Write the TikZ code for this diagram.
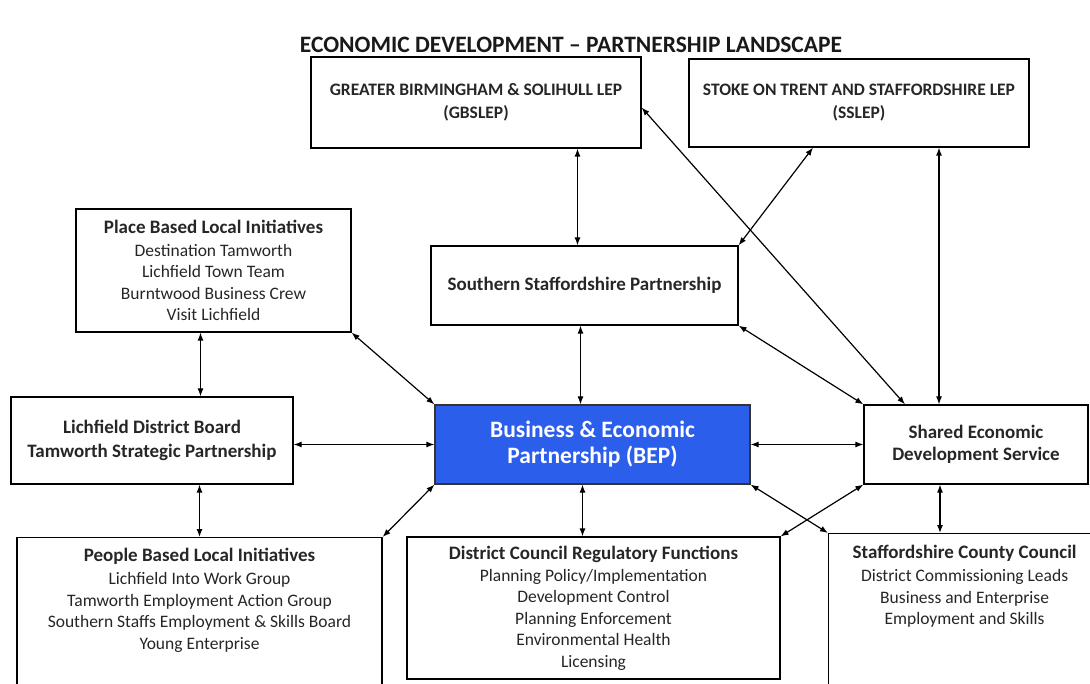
\documentclass[tikz,border=0pt]{standalone}
\usepackage{fontspec}
\setmainfont{Carlito}
\usetikzlibrary{arrows.meta}
\usepackage{xcolor}
\definecolor{bepblue}{RGB}{44,94,236}
\newcommand{\boxhead}[1]{{\bfseries\fontsize{19}{21.5}\selectfont #1}}

\begin{document}
\begin{tikzpicture}[
x=1pt, y=-1pt,
box/.style={draw, rectangle, line width=1.2pt, align=center, inner sep=0pt, text=black!85, font=\fontsize{17.5}{21.5}\selectfont},
headbox/.style={box, font=\bfseries\fontsize{19}{24}\selectfont},
arrow/.style={{Latex[length=8pt,width=6pt]}-{Latex[length=8pt,width=6pt]}, line width=1.2pt} ]

\useasboundingbox (0,0) rectangle (1090,684);
\clip (0,0) rectangle (1090,684);

\node[font=\bfseries\fontsize{23.5}{26}\selectfont, text=black!90] (title) at (571,45) {ECONOMIC DEVELOPMENT -- PARTNERSHIP LANDSCAPE};

% top row: the two LEPs
\node[headbox, minimum width=330pt, minimum height=91pt, font=\bfseries\fontsize{17.5}{23}\selectfont] (gbslep) at (476,102.5) {GREATER BIRMINGHAM \& SOLIHULL LEP\\(GBSLEP)};
\node[headbox, minimum width=340pt, minimum height=88pt, font=\bfseries\fontsize{17.5}{23}\selectfont] (sslep) at (859,103) {STOKE ON TRENT AND STAFFORDSHIRE LEP\\(SSLEP)};

\node[box, minimum width=275pt, minimum height=123pt] (place) at (213.5,270.5) {\boxhead{Place Based Local Initiatives}\\[1.5pt]Destination Tamworth\\Lichfield Town Team\\Burntwood Business Crew\\Visit Lichfield};
\node[headbox, minimum width=307pt, minimum height=79pt] (ssp) at (584.5,285.5) {Southern Staffordshire Partnership};

% middle row
\node[headbox, minimum width=282pt, minimum height=87pt] (ldb) at (152,440.5) {Lichfield District Board\\Tamworth Strategic Partnership};
\node[headbox, minimum width=315pt, minimum height=79pt, fill=bepblue, draw=black!80, text=white, font=\bfseries\fontsize{23.5}{26}\selectfont] (bep) at (592.5,444.5) {Business \& Economic\\Partnership (BEP)};
\node[headbox, minimum width=224pt, minimum height=79pt, font=\bfseries\fontsize{19}{22}\selectfont] (sed) at (976,444.5) {Shared Economic\\Development Service};

% bottom row
\node[box, anchor=north, minimum width=365pt] (people) at (199.5,537) {\parbox[t][170pt][t]{360pt}{\centering\vspace*{11pt}\boxhead{People Based Local Initiatives}\\[1.5pt]Lichfield Into Work Group\\Tamworth Employment Action Group\\Southern Staffs Employment \& Skills Board\\Young Enterprise}};
\node[box, minimum width=373pt, minimum height=142pt] (district) at (593.5,608) {\boxhead{District Council Regulatory Functions}\\[0.5pt]Planning Policy/Implementation\\Development Control\\Planning Enforcement\\Environmental Health\\Licensing};
\node[box, anchor=north west, minimum width=272pt] (county) at (828,533) {\parbox[t][170pt][t]{268pt}{\centering\vspace*{12pt}\boxhead{Staffordshire County Council}\\[1.5pt]District Commissioning Leads\\Business and Enterprise\\Employment and Skills}};

\draw[arrow] ([xshift=-7pt]ssp.north) -- ([xshift=-7pt]ssp.north |- gbslep.south);
\draw[arrow] (ssp.north east) -- ([xshift=-46pt]sslep.south);
\draw[arrow] ([yshift=-5pt]gbslep.east) -- ([xshift=-71pt]sed.north);
\draw[arrow] ([xshift=-37pt]sed.north) -- ([xshift=-37pt]sed.north |- sslep.south);
\draw[arrow] (ssp.south east) -- (sed.north west);
\draw[arrow] ([xshift=-12pt]bep.north) -- ([xshift=-12pt]bep.north |- ssp.south);
\draw[arrow] ([xshift=-13pt]place.south) -- ([xshift=-13pt]place.south |- ldb.north);
\draw[arrow] (place.south east) -- (bep.north west);
\draw[arrow] (ldb.east |- bep.west) -- (bep.west);
\draw[arrow] (people.north) -- (people.north |- ldb.south);
\draw[arrow] (people.north east) -- (bep.south west);
\draw[arrow] ([xshift=-10pt]bep.south) -- ([xshift=-10pt]bep.south |- district.north);
\draw[arrow] (bep.south east) -- (county.north west);
\draw[arrow] (district.north east) -- (sed.south west);
\draw[arrow] (bep.east) -- (sed.west);
\draw[arrow] ([xshift=-36pt]sed.south) -- ([xshift=-36pt]sed.south |- county.north);

\end{tikzpicture}
\end{document}
